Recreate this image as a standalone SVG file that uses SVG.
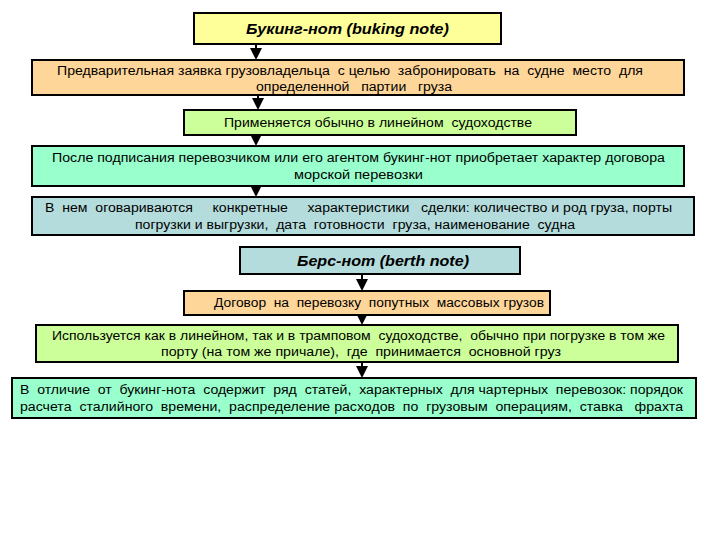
<svg xmlns="http://www.w3.org/2000/svg" width="720" height="540" viewBox="0 0 720 540">
<style>
.b{stroke:#000;stroke-width:2}
.t{font-family:"Liberation Sans",Arial,sans-serif;font-size:12.5px;fill:#000;white-space:pre}
.h{font-family:"Liberation Sans",Arial,sans-serif;font-size:14px;font-weight:bold;font-style:italic;fill:#000}
.c{stroke:#000;stroke-width:2;fill:none}
</style>
<defs><marker id="a" markerWidth="6" markerHeight="6" refX="5" refY="3" orient="auto" markerUnits="strokeWidth"><path d="M0,0L6,3L0,6Z" fill="#000"/></marker></defs>
<rect width="720" height="540" fill="#fff"/>
<g id="connectors">
<line class="c" x1="256" y1="44" x2="256" y2="58" marker-end="url(#a)"/>
<line class="c" x1="258" y1="95" x2="258" y2="108" marker-end="url(#a)"/>
<line class="c" x1="256" y1="135" x2="256" y2="144" marker-end="url(#a)"/>
<line class="c" x1="256" y1="186" x2="256" y2="195" marker-end="url(#a)"/>
<line class="c" x1="362" y1="274" x2="362" y2="289" marker-end="url(#a)"/>
<line class="c" x1="362" y1="315" x2="362" y2="323" marker-end="url(#a)"/>
<line class="c" x1="362" y1="362" x2="362" y2="376" marker-end="url(#a)"/>
</g>
<g id="n1"><rect class="b" x="194" y="13" width="307" height="31" fill="#FFFF99"/><text class="h" x="246" y="34" textLength="203" lengthAdjust="spacingAndGlyphs">Букинг-нот (buking note)</text></g>
<g id="n2"><rect class="b" x="32" y="60" width="652" height="35" fill="#FFD699"/><text class="t" x="57" y="75" textLength="586" lengthAdjust="spacingAndGlyphs">Предварительная заявка грузовладельца  с целью  забронировать  на  судне  место  для</text><text class="t" x="256" y="91" textLength="196" lengthAdjust="spacingAndGlyphs">определенной   партии   груза</text></g>
<g id="n3"><rect class="b" x="184" y="110" width="392" height="25" fill="#CCFF99"/><text class="t" x="224" y="127" textLength="308" lengthAdjust="spacingAndGlyphs">Применяется обычно в линейном  судоходстве</text></g>
<g id="n4"><rect class="b" x="32" y="146" width="652" height="40" fill="#99FFCC"/><text class="t" x="52" y="162" textLength="613" lengthAdjust="spacingAndGlyphs">После подписания перевозчиком или его агентом букинг-нот приобретает характер договора</text><text class="t" x="294" y="179" textLength="129" lengthAdjust="spacingAndGlyphs">морской перевозки</text></g>
<g id="n5"><rect class="b" x="32" y="197" width="662" height="38" fill="#B4DCDC"/><text class="t" x="45" y="212" textLength="627" lengthAdjust="spacingAndGlyphs">В  нем  оговариваются     конкретные     характеристики   сделки: количество и род груза, порты</text><text class="t" x="135" y="229" textLength="440" lengthAdjust="spacingAndGlyphs">погрузки и выгрузки,  дата  готовности  груза, наименование  судна</text></g>
<g id="n6"><rect class="b" x="240" y="247" width="280" height="27" fill="#B4DCDC"/><text class="h" x="297" y="266" textLength="172" lengthAdjust="spacingAndGlyphs">Берс-нот (berth note)</text></g>
<g id="n7"><rect class="b" x="184" y="291" width="366" height="24" fill="#FFD699"/><text class="t" x="214" y="307" textLength="330" lengthAdjust="spacingAndGlyphs">Договор  на  перевозку  попутных  массовых грузов</text></g>
<g id="n8"><rect class="b" x="36" y="325" width="642" height="37" fill="#CCFF99"/><text class="t" x="52" y="340" textLength="613" lengthAdjust="spacingAndGlyphs">Используется как в линейном, так и в трамповом  судоходстве,  обычно при погрузке в том же</text><text class="t" x="161" y="356" textLength="400" lengthAdjust="spacingAndGlyphs">порту (на том же причале),  где  принимается  основной груз</text></g>
<g id="n9"><rect class="b" x="12" y="378" width="684" height="40" fill="#99FFCC"/><text class="t" x="20" y="394" textLength="663" lengthAdjust="spacingAndGlyphs">В  отличие  от  букинг-нота  содержит  ряд  статей,  характерных  для чартерных  перевозок: порядок</text><text class="t" x="20" y="411" textLength="663" lengthAdjust="spacingAndGlyphs">расчета  сталийного  времени,  распределение расходов  по  грузовым  операциям,  ставка   фрахта</text></g>
</svg>
